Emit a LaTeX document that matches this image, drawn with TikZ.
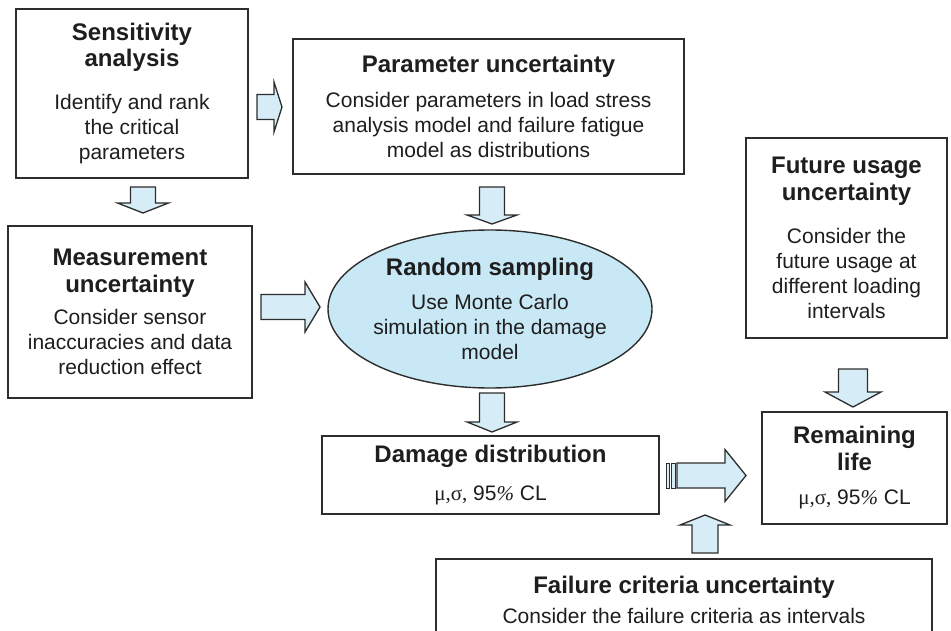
\documentclass[tikz,border=0pt]{standalone}
\usepackage{fontspec}
\setmainfont{Liberation Sans}
\newfontfamily\greekfont{Liberation Serif}
\usetikzlibrary{positioning,calc,shapes.geometric}

\definecolor{boxline}{RGB}{45,45,45}
\definecolor{inktext}{RGB}{30,30,30}
\definecolor{ellfill}{RGB}{200,232,245}
\definecolor{arrfill}{RGB}{214,237,248}

\newcommand{\headf}{\fontsize{24}{27}\selectfont\bfseries}
\newcommand{\bodyf}{\fontsize{21}{25}\selectfont}
\newcommand{\stats}{{\greekfont μ,σ,} 95{\greekfont\itshape\%} CL}

% block arrow: tail, tip, body half width, head half width, head length
\newcommand{\fatarrow}[5]{%
  \coordinate (fa-h) at ($(#2)!#5pt!(#1)$);
  \draw[fatbody] ($(#1)!#3pt!90:(#2)$) -- ($(fa-h)!#3pt!90:(#2)$) -- ($(fa-h)!#4pt!90:(#2)$) -- (#2)
    -- ($(fa-h)!#4pt!-90:(#2)$) -- ($(fa-h)!#3pt!-90:(#2)$) -- ($(#1)!#3pt!-90:(#2)$) -- cycle;}

\tikzset{
  box/.style={draw=boxline, line width=1.8pt, fill=white, text=inktext, align=center,
    inner sep=0pt, font=\bodyf},
  fatbody/.style={draw=boxline, line width=1.3pt, fill=arrfill, line join=miter},
}

\begin{document}
\begin{tikzpicture}[x=1pt, y=-1pt]
\useasboundingbox (0,0) rectangle (951,631);

% boxes
\node[box, minimum width=232pt, minimum height=169pt] (sens) at (132,93.5)
  {\headf Sensitivity\\[1pt] \headf analysis\\[18pt] Identify and rank\\ the critical\\ parameters};
\node[box, minimum width=391pt, minimum height=135pt] (param) at (488.5,106.5)
  {\headf Parameter uncertainty\\[10pt] Consider parameters in load stress\\ analysis model and failure fatigue\\ model as distributions};
\node[box, minimum width=244pt, minimum height=172pt] (meas) at (130,312)
  {\headf Measurement\\[2pt] \headf uncertainty\\[7pt] Consider sensor\\ inaccuracies and data\\ reduction effect};
\node[box, ellipse, draw=boxline, line width=1.4pt, fill=ellfill, inner xsep=-5pt,
  minimum width=324pt, minimum height=158pt] (rand) at (490,309)
  {\headf Random sampling\\[9pt] Use Monte Carlo\\ simulation in the damage\\ model};
\node[box, minimum width=201pt, minimum height=200pt] (future) at (846.5,238)
  {\headf Future usage\\[2pt] \headf uncertainty\\[18pt] Consider the\\ future usage at\\ different loading\\ intervals};
\node[box, minimum width=185pt, minimum height=112pt] (remain) at (854.5,468)
  {\headf Remaining\\[2pt] \headf life\\[9pt] \stats};
\node[box, minimum width=337pt, minimum height=78pt] (damage) at (490.5,475)
  {\headf Damage distribution\\[13pt] \stats};
\node[box, minimum width=496pt, minimum height=82pt] (fail) at (684,600)
  {\headf Failure criteria uncertainty\\[5pt] Consider the failure criteria as intervals};

% arrow ends
\coordinate (a1s) at (257,107);   \coordinate (a1e) at (282,107);
\coordinate (a2s) at (143,187);   \coordinate (a2e) at (143,213);
\coordinate (a3s) at (261,307);   \coordinate (a3e) at (320,307);
\coordinate (a4s) at (492,187);   \coordinate (a4e) at (492,224);
\coordinate (a5s) at (492,393);   \coordinate (a5e) at (492,432);
\coordinate (a6s) at (853,369);   \coordinate (a6e) at (853,407);
\coordinate (a7s) at (677,475.5); \coordinate (a7e) at (746,475.5);
\coordinate (a8s) at (705,553);   \coordinate (a8e) at (705,515);

% block arrows
\fatarrow{a1s}{a1e}{12.5}{25}{8}
\fatarrow{a2s}{a2e}{12.5}{25.5}{10}
\fatarrow{a3s}{a3e}{12.5}{25}{15}
\fatarrow{a4s}{a4e}{12.5}{25}{9}
\fatarrow{a5s}{a5e}{12.5}{25}{10}
\fatarrow{a6s}{a6e}{14.5}{28}{15}
\fatarrow{a7s}{a7e}{12.5}{26}{21}
\fatarrow{a8s}{a8e}{13}{25}{10}
% stripes on the damage arrow
\draw[fatbody, line width=1pt] (666,463) rectangle (669.5,488);
\draw[fatbody, line width=1pt] (671.5,463) rectangle (675,488);
\end{tikzpicture}
\end{document}
